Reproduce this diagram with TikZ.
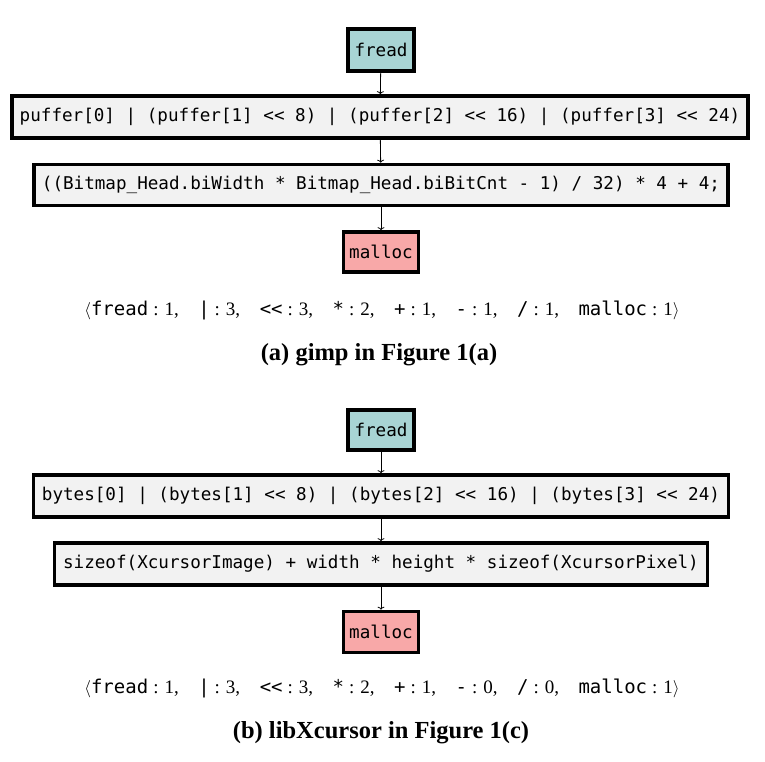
\documentclass[tikz,border=0pt]{standalone}
\usepackage{fontspec}
\setmainfont{Liberation Serif}
\setmonofont{DejaVu Sans Mono}
\usetikzlibrary{arrows.meta}
\definecolor{tealfill}{HTML}{A8D4D4}
\definecolor{pinkfill}{HTML}{F8A8A8}
\definecolor{grayfill}{HTML}{F2F2F2}
\newcommand\kvpair[2]{{\ttfamily #1}\hspace{5pt}:\hspace{6pt}#2}
\newcommand\vsep{,\hspace{19.5pt}}
\begin{document}
\begin{tikzpicture}[x=1pt,y=-1pt,
  box/.style={draw=black,line width=3.6pt,inner sep=0pt,align=center,
    font=\fontsize{17.6}{20}\selectfont\ttfamily},
  codebox/.style={box,fill=grayfill},
  srcbox/.style={box,fill=tealfill},
  sinkbox/.style={box,fill=pinkfill},
  flow/.style={-{To[length=3pt,width=7pt]},line width=0.8pt},
  vec/.style={font=\fontsize{19}{22}\selectfont,inner sep=0pt},
  captext/.style={font=\fontsize{24.5}{28}\selectfont\bfseries,inner sep=0pt}]
\useasboundingbox (0,0) rectangle (765,761);
% (a)
\node[srcbox,minimum width=66,minimum height=42] (a1) at (381,50) {fread};
\node[codebox,minimum width=736,minimum height=42] (a2) at (380,117) {puffer[0] | (puffer[1] << 8) | (puffer[2] << 16) | (puffer[3] << 24)};
\node[codebox,minimum width=694,minimum height=41] (a3) at (381,185) {((Bitmap\_Head.biWidth * Bitmap\_Head.biBitCnt - 1) / 32) * 4 + 4;};
\node[sinkbox,minimum width=75,minimum height=40] (a4) at (381,252) {malloc};
\draw[flow] (a1) -- (a2);
\draw[flow] (a2) -- (a3);
\draw[flow] (a3) -- (a4);
\node[vec] (av) at (382,310) {\fontsize{19}{22}\selectfont$\langle$\kvpair{fread}{1}\vsep\kvpair{|}{3}\vsep\kvpair{<<}{3}\vsep\kvpair{*}{2}\vsep\kvpair{+}{1}\vsep\kvpair{-}{1}\vsep\kvpair{/}{1}\vsep\kvpair{malloc}{1}$\rangle$};
\node[captext] (ac) at (379,355) {(a) gimp in Figure 1(a)};
% (b)
\node[srcbox,minimum width=66,minimum height=40] (b1) at (381,430) {fread};
\node[codebox,minimum width=695,minimum height=42] (b2) at (381,496) {bytes[0] | (bytes[1] << 8) | (bytes[2] << 16) | (bytes[3] << 24)};
\node[codebox,minimum width=653,minimum height=42] (b3) at (381,564) {sizeof(XcursorImage) + width * height * sizeof(XcursorPixel)};
\node[sinkbox,minimum width=75,minimum height=41] (b4) at (381,632) {malloc};
\draw[flow] (b1) -- (b2);
\draw[flow] (b2) -- (b3);
\draw[flow] (b3) -- (b4);
\node[vec] (bv) at (382,688) {\fontsize{19}{22}\selectfont$\langle$\kvpair{fread}{1}\vsep\kvpair{|}{3}\vsep\kvpair{<<}{3}\vsep\kvpair{*}{2}\vsep\kvpair{+}{1}\vsep\kvpair{-}{0}\vsep\kvpair{/}{0}\vsep\kvpair{malloc}{1}$\rangle$};
\node[captext] (bc) at (381,733) {(b) libXcursor in Figure 1(c)};
\end{tikzpicture}
\end{document}
